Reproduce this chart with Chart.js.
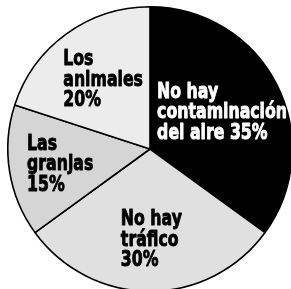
<!DOCTYPE html>
<html>
<head>
<meta charset="utf-8">
<script src="https://cdn.jsdelivr.net/npm/chart.js@4/dist/chart.umd.min.js"></script>
<style>
  html, body { margin: 0; padding: 0; background: #ffffff; }
  #wrap { width: 291px; height: 289px; overflow: hidden; position: relative; }
  canvas { position: absolute; left: 0; top: 0; }
</style>
</head>
<body>
<div id="wrap"><canvas id="c" width="300" height="300"></canvas></div>
<script>
// Data
const categories = [
  ["No hay", "contaminación", "del aire 35%"],
  ["No hay", "tráfico", "30%"],
  ["Las", "granjas", "15%"],
  ["Los", "animales", "20%"]
];
const values = [35, 30, 15, 20];
const sliceColors = ["#000000", "#e0e0e0", "#d5d5d5", "#ececec"];
const labelColors = ["#ffffff", "#000000", "#000000", "#000000"];

// Label placement relative to pie center (fraction of radius): left x, first baseline y
const labelOffsets = [
  [0.05, -0.36],
  [-0.205, 0.535],
  [-0.865, 0.005],
  [-0.61, -0.59]
];

const labelPlugin = {
  id: 'sliceLabels',
  afterDatasetsDraw(chart) {
    const meta = chart.getDatasetMeta(0);
    const arc = meta.data[0];
    const cx = arc.x, cy = arc.y, r = arc.outerRadius;
    const ctx = chart.ctx;
    const lh = 20.5;
    const squeeze = 0.75;
    categories.forEach((lines, i) => {
      const x = cx + labelOffsets[i][0] * r;
      const y = cy + labelOffsets[i][1] * r;
      ctx.save();
      ctx.translate(x, y);
      ctx.scale(squeeze, 1);
      ctx.font = "bold 21px 'DejaVu Sans', sans-serif";
      ctx.textAlign = 'left';
      ctx.textBaseline = 'alphabetic';
      ctx.fillStyle = labelColors[i];
      ctx.strokeStyle = labelColors[i];
      ctx.lineWidth = 0.9;
      ctx.lineJoin = 'round';
      lines.forEach((t, k) => {
        ctx.fillText(t, 0, k * lh);
        ctx.strokeText(t, 0, k * lh);
      });
      ctx.restore();
    });
  }
};

new Chart(document.getElementById('c'), {
  type: 'pie',
  data: {
    labels: categories.map(l => l.join(' ')),
    datasets: [{
      data: values,
      backgroundColor: sliceColors,
      borderColor: '#000000',
      borderWidth: 1.6
    }]
  },
  options: {
    responsive: false,
    animation: false,
    events: [],
    layout: { padding: { left: 7, top: 6, right: 7, bottom: 8 } },
    plugins: {
      legend: { display: false },
      tooltip: { enabled: false }
    }
  },
  plugins: [labelPlugin]
});
</script>
</body>
</html>
